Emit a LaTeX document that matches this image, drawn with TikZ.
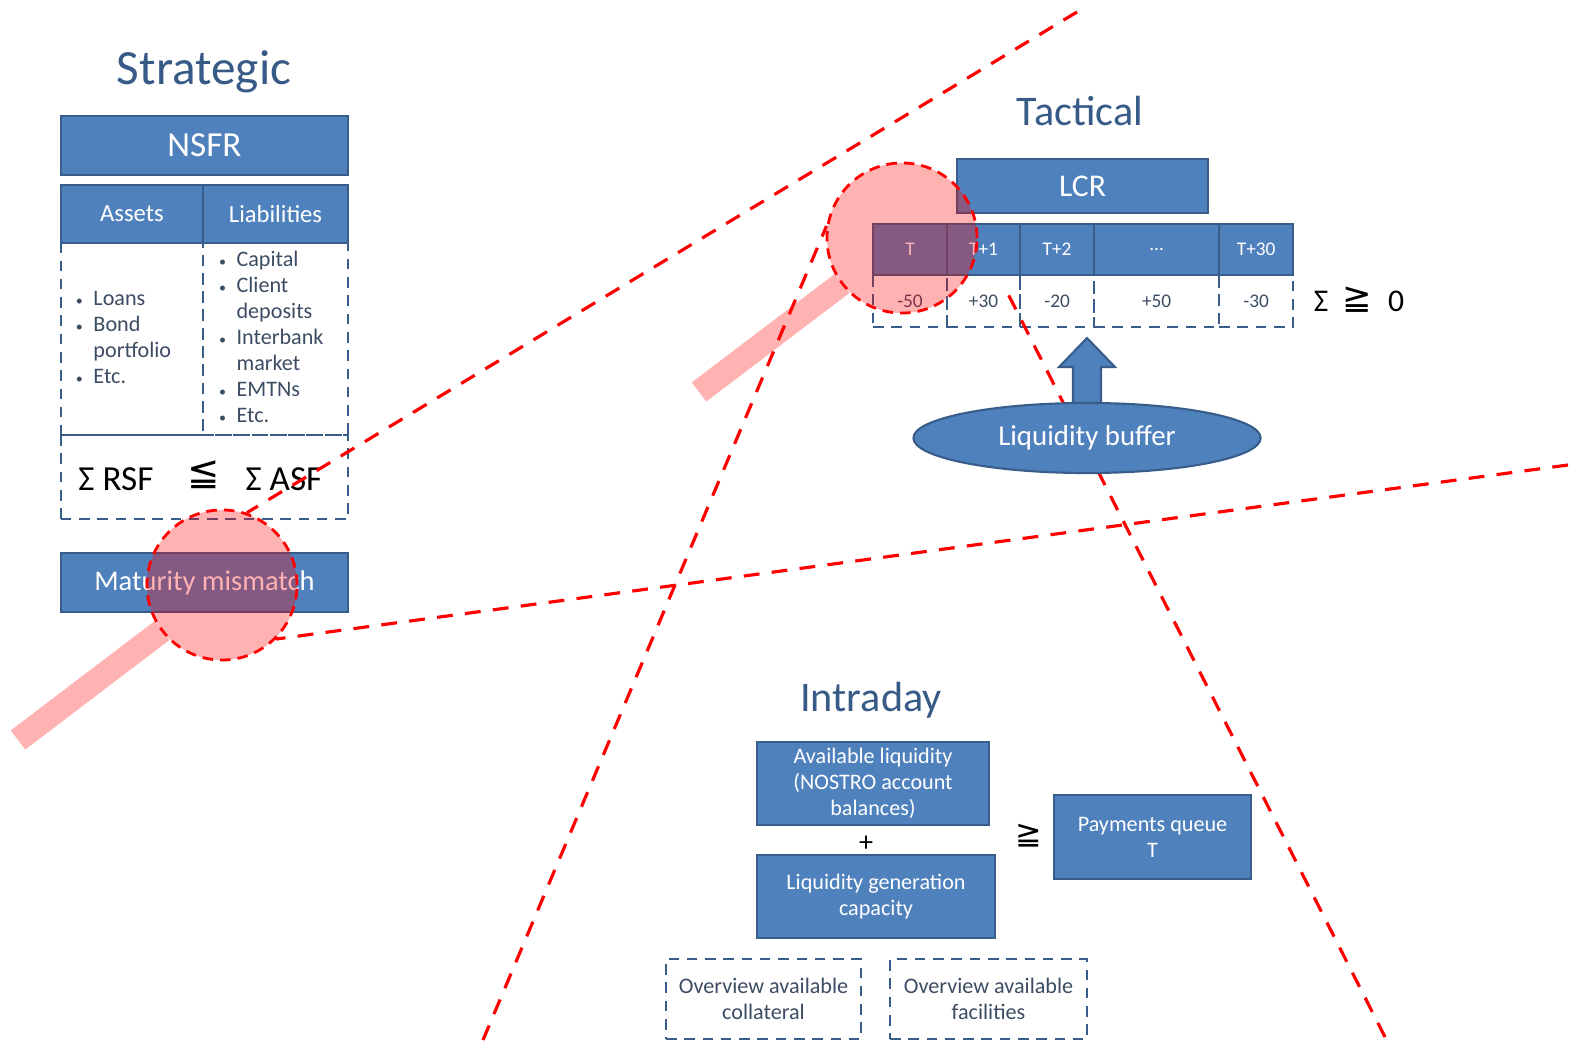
\documentclass[tikz,border=0pt]{standalone}
\usepackage{fontspec}
\setmainfont{Carlito}
\newfontfamily\symfont{DejaVu Sans}
\usetikzlibrary{positioning,calc,shapes.geometric}

\definecolor{boxblue}{HTML}{4F81BD}
\definecolor{boxedge}{HTML}{385D8A}
\definecolor{titleblue}{HTML}{375A87}
\definecolor{listtext}{HTML}{3C4C63}

\newcommand{\smallbullet}{{\fontsize{4}{4}\selectfont\textbullet}}

\begin{document}
\begin{tikzpicture}[
    x=0.01cm, y=-0.01cm,
    box/.style={
        rectangle,
        draw=boxedge,
        line width=0.6pt,
        fill=boxblue,
        text=white,
        align=center,
        inner sep=0pt,
        outer sep=0pt
    },
    dashbox/.style={
        rectangle,
        draw=boxedge,
        line width=0.65pt,
        dash pattern=on 3pt off 2.2pt,
        text=listtext,
        align=center,
        inner sep=0pt,
        outer sep=0pt
    },
    title/.style={font=\fontsize{12}{14}\selectfont, text=titleblue},
    cellhead/.style={minimum height=0.51cm, font=\fontsize{5.5}{6.6}\selectfont},
    cellval/.style={minimum height=0.52cm, font=\fontsize{5.5}{6.6}\selectfont},
    redline/.style={draw=red, line width=0.9pt, dash pattern=on 4.5pt off 3.5pt},
    lens/.style={circle, draw=red, line width=0.8pt, dash pattern=on 3pt off 2pt,
        fill=red, fill opacity=0.3, minimum size=1.5cm, inner sep=0pt},
    handle/.style={draw=red, line width=0.24cm, draw opacity=0.3},
    node distance=0cm
]

\def\stratW{2.87cm}
\def\listfont{\fontsize{6.3}{7.4}\selectfont}
\def\boxfont{\fontsize{6.3}{7.4}\selectfont}
\def\headfont{\fontsize{7}{8.4}\selectfont}

\useasboundingbox (0,0) rectangle (1579,1049);

%% ===== STRATEGIC =====
\node[title, font=\fontsize{14}{17}\selectfont] (strattitle) at (204,72) {Strategic};

\node[box, minimum width=\stratW, minimum height=0.59cm,
      font=\fontsize{10}{12}\selectfont] (nsfr) at (204.5,145.5) {NSFR};

\node[box, minimum width=1.42cm, minimum height=0.58cm, font=\headfont,
      below=0.1cm of nsfr.south west, anchor=north west] (assets) {Assets};
\node[box, minimum width=1.45cm, minimum height=0.58cm, font=\headfont,
      right=of assets] (liabs) {Liabilities};

\node[dashbox, minimum height=1.92cm, inner xsep=0.15cm, text width=1.12cm,
      align=left, font=\listfont, below=of assets] (assetlist) {
  \begin{tabular}{@{}l@{\hspace{3pt}}l@{}}
  \smallbullet & Loans\\
  \smallbullet & Bond\\
               & portfolio\\
  \smallbullet & Etc.
  \end{tabular}};
\node[dashbox, minimum height=1.92cm, inner xsep=0.16cm, text width=1.13cm,
      align=left, font=\listfont, below=of liabs] (liablist) {
  \begin{tabular}{@{}l@{\hspace{3pt}}l@{}}
  \smallbullet & Capital\\
  \smallbullet & Client\\
               & deposits\\
  \smallbullet & Interbank\\
               & market\\
  \smallbullet & EMTNs\\
  \smallbullet & Etc.
  \end{tabular}};

\node[dashbox, minimum width=\stratW, minimum height=0.84cm,
      below=of assetlist.south west, anchor=north west] (sumbox) {};
\node[font=\fontsize{10}{12}\selectfont] (rsf) at (116,479) {Σ RSF};
\node[font=\symfont\fontsize{11}{13}\selectfont] (leq) at (204,475) {≦};
\node[font=\fontsize{10}{12}\selectfont] (asf) at (284,479) {Σ ASF};

\node[box, minimum width=\stratW, minimum height=0.59cm,
      font=\fontsize{8.1}{10}\selectfont, below=0.34cm of sumbox] (mismatch) {Maturity mismatch};

%% ===== TACTICAL =====
\node[title] (tacttitle) at (1080,111) {Tactical};

\node[box, minimum width=2.51cm, minimum height=0.54cm,
      font=\fontsize{9}{11}\selectfont] (lcr) at (1082.5,186) {LCR};

\node[box, cellhead, minimum width=0.74cm] (hT) at (910,249.5) {T};
\node[box, cellhead, minimum width=0.73cm, right=of hT] (h1) {T+1};
\node[box, cellhead, minimum width=0.74cm, right=of h1] (h2) {T+2};
\node[box, cellhead, minimum width=1.25cm, right=of h2] (hdots) {...};
\node[box, cellhead, minimum width=0.74cm, right=of hdots] (h30) {T+30};

\node[dashbox, cellval, minimum width=0.74cm, below=of hT] (vT) {-50};
\node[dashbox, cellval, minimum width=0.73cm, below=of h1] (v1) {+30};
\node[dashbox, cellval, minimum width=0.74cm, below=of h2] (v2) {-20};
\node[dashbox, cellval, minimum width=1.25cm, below=of hdots] (vdots) {+50};
\node[dashbox, cellval, minimum width=0.74cm, below=of h30] (v30) {-30};

\node[font=\fontsize{9}{11}\selectfont] (lcrsum) at (1321,301) {Σ};
\node[font=\symfont\fontsize{10}{12}\selectfont] (lcrgeq) at (1357,300) {≧};
\node[font=\fontsize{9}{11}\selectfont] (lcrzero) at (1396,301) {0};

%% ===== INTRADAY =====
\node[title] (intratitle) at (871,700) {Intraday};

\node[box, minimum width=2.32cm, minimum height=0.83cm, font=\boxfont]
  (avail) at (873,783.5) {Available liquidity\\(NOSTRO account\\balances)};
\node[font=\fontsize{8}{10}\selectfont] (plus) at (866,844) {+};
\node[box, minimum width=2.38cm, minimum height=0.83cm, font=\boxfont]
  (lgc) at (876,896.5) {Liquidity generation\\capacity};
\node[font=\symfont\fontsize{9}{11}\selectfont] (intrageq) at (1029,836) {≧};
\node[box, minimum width=1.97cm, minimum height=0.84cm, font=\boxfont]
  (pqueue) at (1152.5,837) {Payments queue\\T};

\node[dashbox, minimum width=1.95cm, minimum height=0.80cm, font=\boxfont]
  (coll) at (763.5,999) {Overview available\\collateral};
\node[dashbox, minimum width=1.97cm, minimum height=0.80cm, font=\boxfont]
  (facil) at (988.5,999) {Overview available\\facilities};

%% ===== MAGNIFIERS =====
\coordinate (lens1) at (222,585);
\coordinate (grip1) at (18,740);
\draw[handle] (grip1) -- ($(lens1)!0.75cm!(grip1)$);
\node[lens] (glass1) at (lens1) {};

\coordinate (lens2) at (902,238);
\coordinate (grip2) at (699,392);
\draw[handle] (grip2) -- ($(lens2)!0.75cm!(grip2)$);
\node[lens] (glass2) at (lens2) {};

%% ===== RAYS =====
\coordinate (rayA) at (1077,12);
\coordinate (rayB) at (1568,465);
\coordinate (rayC) at (483,1040);
\coordinate (rayD) at (1385,1037);
\coordinate (rayDtop) at (1005,288);

\draw[redline] (rayA) -- (glass1.71);
\draw[redline] (rayB) -- (glass1.-45);
\draw[redline] (rayC) -- (glass2.171);
\draw[redline] (rayD) -- (rayDtop);

%% ===== BUFFER =====
\coordinate (bufc) at (1087,438);
\coordinate (tip) at ([yshift=-0.11cm]bufc |- vdots.south);
\draw[fill=boxblue, draw=boxedge, line width=0.6pt]
  (tip) -- ++(28,29) -- ++(-14,0) -- ++(0,45) -- ++(-28,0) -- ++(0,-45) -- ++(-14,0) -- cycle;
\node[box, ellipse, minimum width=3.47cm, minimum height=0.70cm,
      font=\fontsize{8.2}{10}\selectfont] (buffer) at (bufc) {Liquidity buffer};

\end{tikzpicture}
\end{document}
